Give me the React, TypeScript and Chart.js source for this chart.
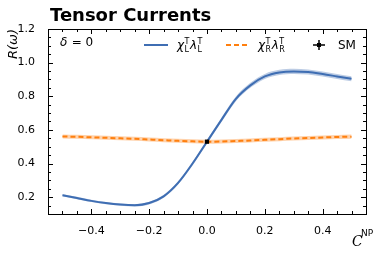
import React, { useEffect, useRef } from "react";
import { Chart, registerables } from "chart.js";

Chart.register(...registerables);

const cValues = [-0.5, -0.45, -0.4, -0.35, -0.3, -0.25, -0.2, -0.15, -0.1, -0.05, 0, 0.05, 0.1, 0.15, 0.2, 0.25, 0.3, 0.35, 0.4, 0.45, 0.5];
const chiL = [0.212, 0.195, 0.178, 0.165, 0.156, 0.152, 0.165, 0.205, 0.285, 0.4, 0.53, 0.66, 0.785, 0.865, 0.918, 0.942, 0.948, 0.944, 0.932, 0.918, 0.904];
const chiLErr = [0.007, 0.007, 0.007, 0.007, 0.007, 0.007, 0.008, 0.009, 0.01, 0.011, 0.012, 0.013, 0.014, 0.015, 0.015, 0.015, 0.015, 0.015, 0.015, 0.015, 0.015];
const chiR = [0.561, 0.559, 0.556, 0.553, 0.55, 0.547, 0.543, 0.539, 0.535, 0.532, 0.53, 0.531, 0.534, 0.537, 0.541, 0.545, 0.549, 0.552, 0.555, 0.558, 0.56];
const chiRErr = [0.012, 0.012, 0.012, 0.012, 0.012, 0.012, 0.012, 0.012, 0.012, 0.012, 0.012, 0.012, 0.012, 0.012, 0.012, 0.012, 0.012, 0.012, 0.012, 0.012, 0.012];
const smX = [0];
const smY = [0.53];
const xTicks = [-0.4, -0.2, 0, 0.2, 0.4];
const yTicks = [0.2, 0.4, 0.6, 0.8, 1.0, 1.2];
const xMinor = 0.05;
const yMinor = 0.05;

const BLUE = "#3f6eb3";
const BLUE_BAND = "rgba(63,110,179,0.35)";
const ORANGE = "#ff7f0e";
const ORANGE_BAND = "rgba(255,127,14,0.35)";
const FONT = "DejaVu Sans";

const pts = (ys: number[]) => cValues.map((x, i) => ({ x, y: ys[i] }));
const fmt = (v: number) => v.toFixed(1).replace("-", "\u2212");

function drawParts(ctx: CanvasRenderingContext2D, x: number, y: number, parts: { t: string; font: string; dy?: number; stackSub?: { t: string; font: string; dy: number } }[]) {
  let cx = x;
  ctx.textBaseline = "alphabetic";
  ctx.textAlign = "left";
  for (const p of parts) {
    ctx.font = p.font;
    ctx.fillText(p.t, cx, y + (p.dy || 0));
    let w = ctx.measureText(p.t).width;
    if (p.stackSub) {
      ctx.font = p.stackSub.font;
      ctx.fillText(p.stackSub.t, cx, y + p.stackSub.dy);
      w = Math.max(w, ctx.measureText(p.stackSub.t).width);
    }
    cx += w + 0.5;
  }
  return cx;
}

const decorPlugin = {
  id: "decor",
  afterDraw(chart: any) {
    const { ctx, chartArea: a, scales } = chart;
    const xs = scales.x;
    const ys = scales.y;
    ctx.save();
    ctx.strokeStyle = "#000";
    ctx.fillStyle = "#000";
    ctx.lineWidth = 1;
    ctx.strokeRect(Math.round(a.left) + 0.5, Math.round(a.top) + 0.5, Math.round(a.right - a.left), Math.round(a.bottom - a.top));
    const isMajor = (v: number, arr: number[]) => arr.some((t) => Math.abs(t - v) < 1e-6);
    ctx.beginPath();
    for (let v = -0.55; v <= 0.55 + 1e-9; v += xMinor) {
      const vv = Math.round(v * 100) / 100;
      const px = Math.round(xs.getPixelForValue(vv)) + 0.5;
      if (px < a.left + 1 || px > a.right - 1) continue;
      const len = isMajor(vv, xTicks) ? 5 : 3;
      ctx.moveTo(px, a.bottom);
      ctx.lineTo(px, a.bottom - len);
      ctx.moveTo(px, a.top);
      ctx.lineTo(px, a.top + len);
    }
    for (let v = 0.1; v <= 1.2 + 1e-9; v += yMinor) {
      const vv = Math.round(v * 100) / 100;
      const py = Math.round(ys.getPixelForValue(vv)) + 0.5;
      if (py < a.top + 1 || py > a.bottom - 1) continue;
      const len = isMajor(vv, yTicks) ? 5 : 3;
      ctx.moveTo(a.left, py);
      ctx.lineTo(a.left + len, py);
      ctx.moveTo(a.right, py);
      ctx.lineTo(a.right - len, py);
    }
    ctx.stroke();

    // title
    ctx.font = `bold 18px "${FONT}"`;
    ctx.textAlign = "left";
    ctx.textBaseline = "alphabetic";
    ctx.fillText("Tensor Currents", 50, 21);

    // y axis label
    ctx.save();
    ctx.translate(17, a.top);
    ctx.rotate(-Math.PI / 2);
    ctx.font = `italic 13px "${FONT}"`;
    ctx.textAlign = "right";
    ctx.fillText("R(\u03c9)", 0, 0);
    ctx.restore();

    // x axis label
    ctx.font = `italic 14px "DejaVu Serif"`;
    ctx.textAlign = "left";
    ctx.fillText("C", 352, 246);
    ctx.font = `9px "${FONT}"`;
    ctx.fillText("NP", 361, 236);

    // delta label
    drawParts(ctx, 60, 46, [
      { t: "\u03b4", font: `italic 12px "${FONT}"` },
      { t: " = 0", font: `12px "${FONT}"` },
    ]);

    // legend
    const ly = 45;
    ctx.lineWidth = 2;
    ctx.strokeStyle = BLUE;
    ctx.setLineDash([]);
    ctx.beginPath();
    ctx.moveTo(144, ly);
    ctx.lineTo(168, ly);
    ctx.stroke();
    ctx.fillStyle = "#000";
    const sup = `8px "${FONT}"`;
    drawParts(ctx, 177, 49, [
      { t: "\u03c7", font: `italic 12px "${FONT}"` },
      { t: "T", font: sup, dy: -5, stackSub: { t: "L", font: sup, dy: 3 } },
      { t: "\u03bb", font: `italic 12px "${FONT}"` },
      { t: "T", font: sup, dy: -5, stackSub: { t: "L", font: sup, dy: 3 } },
    ]);
    ctx.strokeStyle = ORANGE;
    ctx.setLineDash([5, 3]);
    ctx.beginPath();
    ctx.moveTo(226, ly);
    ctx.lineTo(250, ly);
    ctx.stroke();
    ctx.setLineDash([]);
    drawParts(ctx, 258, 49, [
      { t: "\u03c7", font: `italic 12px "${FONT}"` },
      { t: "T", font: sup, dy: -5, stackSub: { t: "R", font: sup, dy: 3 } },
      { t: "\u03bb", font: `italic 12px "${FONT}"` },
      { t: "T", font: sup, dy: -5, stackSub: { t: "R", font: sup, dy: 3 } },
    ]);
    ctx.strokeStyle = "#000";
    ctx.lineWidth = 1.5;
    ctx.beginPath();
    ctx.moveTo(313, ly);
    ctx.lineTo(325, ly);
    ctx.moveTo(319, ly - 5);
    ctx.lineTo(319, ly + 5);
    ctx.stroke();
    ctx.fillRect(317, ly - 2, 4, 4);
    ctx.font = `12px "${FONT}"`;
    ctx.fillText("SM", 338, 49);
    ctx.restore();
  },
};

export default function App() {
  const ref = useRef<HTMLCanvasElement | null>(null);
  useEffect(() => {
    if (!ref.current) return;
    const blueUp = chiL.map((v, i) => v + chiLErr[i]);
    const blueLo = chiL.map((v, i) => v - chiLErr[i]);
    const orUp = chiR.map((v, i) => v + chiRErr[i]);
    const orLo = chiR.map((v, i) => v - chiRErr[i]);
    const smooth = { cubicInterpolationMode: "monotone" as const };
    const chart = new Chart(ref.current, {
      type: "line",
      data: {
        datasets: [
          { data: smX.map((x, i) => ({ x, y: smY[i] })), type: "scatter", pointStyle: "rect", pointRadius: 3, backgroundColor: "#000", borderColor: "#000", borderWidth: 0, order: 0 } as any,
          { data: pts(chiR), borderColor: ORANGE, borderWidth: 2, borderDash: [5, 3], pointRadius: 0, fill: false, order: 1, ...smooth },
          { data: pts(chiL), borderColor: BLUE, borderWidth: 2, pointRadius: 0, fill: false, order: 2, ...smooth },
          { data: pts(orUp), borderWidth: 0, pointRadius: 0, borderColor: "transparent", backgroundColor: ORANGE_BAND, fill: 4, order: 3, ...smooth },
          { data: pts(orLo), borderWidth: 0, pointRadius: 0, borderColor: "transparent", fill: false, order: 4, ...smooth },
          { data: pts(blueUp), borderWidth: 0, pointRadius: 0, borderColor: "transparent", backgroundColor: BLUE_BAND, fill: 6, order: 5, ...smooth },
          { data: pts(blueLo), borderWidth: 0, pointRadius: 0, borderColor: "transparent", fill: false, order: 6, ...smooth },
        ],
      },
      options: {
        animation: false,
        responsive: false,
        maintainAspectRatio: false,
        layout: { padding: { left: 0, top: 29, right: 8, bottom: 0 } },
        plugins: { legend: { display: false }, tooltip: { enabled: false }, title: { display: false } },
        scales: {
          x: {
            type: "linear",
            min: -0.55,
            max: 0.55,
            grid: { display: false },
            border: { display: false },
            afterBuildTicks: (s: any) => { s.ticks = xTicks.map((v) => ({ value: v })); },
            afterFit: (s: any) => { s.height = 42; },
            ticks: { color: "#000", padding: 3, font: { family: FONT, size: 11 }, callback: (v: any) => fmt(Number(v)), maxRotation: 0 },
          },
          y: {
            type: "linear",
            min: 0.1,
            max: 1.2,
            grid: { display: false },
            border: { display: false },
            afterBuildTicks: (s: any) => { s.ticks = yTicks.map((v) => ({ value: v })); },
            afterFit: (s: any) => { s.width = 48; },
            ticks: { color: "#000", padding: 5, font: { family: FONT, size: 11 }, callback: (v: any) => fmt(Number(v)) },
          },
        },
      },
      plugins: [decorPlugin],
    });
    return () => chart.destroy();
  }, []);
  return (
    <div style={{ position: "fixed", left: 0, top: 0, width: 374, height: 256, background: "#fff" }}>
      <canvas ref={ref} width={374} height={256} style={{ width: 374, height: 256 }} />
    </div>
  );
}
